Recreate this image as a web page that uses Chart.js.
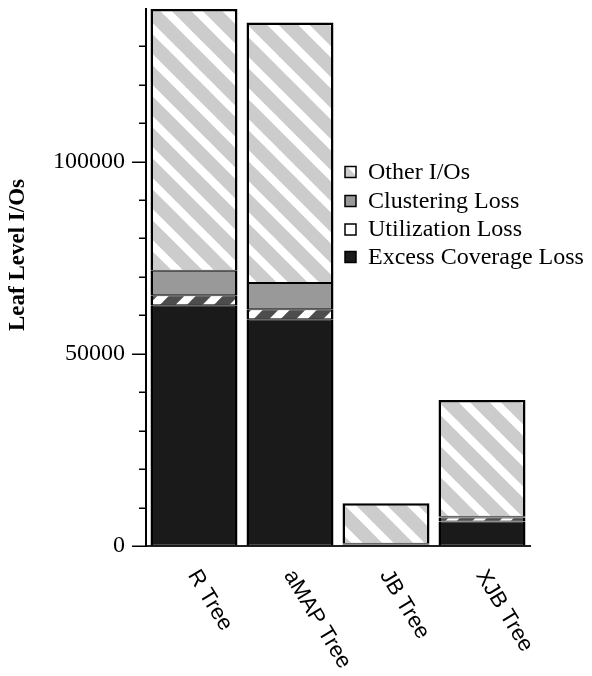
<!DOCTYPE html>
<html>
<head>
<meta charset="utf-8">
<script src="https://cdn.jsdelivr.net/npm/chart.js@4/dist/chart.umd.min.js"></script>
<style>
  html, body { margin: 0; padding: 0; background: #fff; }
  canvas { display: block; }
</style>
</head>
<body>
<canvas id="chart" width="592" height="676" style="width:592px;height:676px"></canvas>
<script>
// Leaf level I/O breakdown per index structure
const categories = ['R Tree', 'aMAP Tree', 'JB Tree', 'XJB Tree'];
const excessCoverageLoss = [62600, 59000, 400, 6400];
const utilizationLoss    = [2600, 2600, 100, 1000];
const clusteringLoss     = [6400, 6800, 100, 200];
const otherIOs           = [68100, 67800, 10500, 30400];
const yMax = 139700;
const yLabelTicks = [0, 50000, 100000];
const yMinorStep = 10000;
const legendLabels = ['Other I/Os', 'Clustering Loss', 'Utilization Loss', 'Excess Coverage Loss'];

// Diagonal stripe fills ("\" or "/")
function stripePattern(bg, fg, period, width, slash) {
  const c = document.createElement('canvas');
  c.width = period; c.height = period;
  const g = c.getContext('2d');
  g.fillStyle = bg;
  g.fillRect(0, 0, period, period);
  g.strokeStyle = fg;
  g.lineWidth = width;
  for (let k = -1; k <= 1; k++) {
    g.beginPath();
    if (slash) {
      g.moveTo(-period, 2 * period + k * period);
      g.lineTo(2 * period, -period + k * period);
    } else {
      g.moveTo(-period, -period + k * period);
      g.lineTo(2 * period, 2 * period + k * period);
    }
    g.stroke();
  }
  return g.createPattern(c, 'repeat');
}

const ctx = document.getElementById('chart').getContext('2d');
const otherFill = stripePattern('#cccccc', '#ffffff', 31, 8, false);
const utilFill = stripePattern('#4d4d4d', '#ffffff', 27, 8, true);
const clusterFill = '#999999';
const excessFill = '#1a1a1a';
const legendFills = [otherFill, clusterFill, '#ffffff', excessFill];

const serif = "'Liberation Serif', 'Times New Roman', serif";
const sans = "'Liberation Sans', Arial, sans-serif";

const innerBorder = { left: 2.5, right: 2.5, top: 1, bottom: 1 };
const topBorder = { left: 2.5, right: 2.5, top: 2.5, bottom: 1 };

const decorations = {
  id: 'decorations',
  afterDraw(chart) {
    const c = chart.ctx;
    const y = chart.scales.y;
    const x = chart.scales.x;
    const axisX = chart.chartArea.left;
    c.save();
    // y tick marks: long at labelled values, short in between
    c.strokeStyle = '#000';
    c.lineWidth = 1.5;
    for (let v = 0; v < yMax; v += yMinorStep) {
      const py = Math.round(y.getPixelForValue(v)) + 0.25;
      const len = yLabelTicks.includes(v) ? 14 : 7;
      c.beginPath();
      c.moveTo(axisX - len, py);
      c.lineTo(axisX, py);
      c.stroke();
    }
    // y axis title
    c.fillStyle = '#000';
    c.font = 'bold 23px ' + serif;
    c.textAlign = 'center';
    c.textBaseline = 'middle';
    c.translate(18, 255);
    c.rotate(-Math.PI / 2);
    c.fillText('Leaf Level I/Os', 0, 0);
    c.restore();

    // slanted category labels
    c.save();
    c.fillStyle = '#000';
    c.font = '22px ' + sans;
    c.textAlign = 'left';
    c.textBaseline = 'alphabetic';
    categories.forEach((label, i) => {
      const cx = x.getPixelForValue(i);
      c.save();
      c.translate(cx - 6.5, 575);
      c.rotate(59 * Math.PI / 180);
      c.fillText(label, 0, 0);
      c.restore();
    });
    c.restore();

    // legend
    c.save();
    c.font = '24px ' + serif;
    c.textBaseline = 'middle';
    c.textAlign = 'left';
    const rows = [171.5, 200.5, 229, 256.5];
    legendLabels.forEach((label, i) => {
      const cy = rows[i];
      c.fillStyle = legendFills[i];
      c.fillRect(345, cy - 5, 11, 11);
      c.strokeStyle = '#000';
      c.lineWidth = 1.5;
      c.strokeRect(345, cy - 5, 11, 11);
      c.fillStyle = '#000';
      c.fillText(label, 368, cy + 1);
    });
    c.restore();
  }
};

new Chart(ctx, {
  type: 'bar',
  data: {
    labels: categories,
    datasets: [
      { label: 'Excess Coverage Loss', data: excessCoverageLoss, backgroundColor: excessFill, borderWidth: innerBorder },
      { label: 'Utilization Loss', data: utilizationLoss, backgroundColor: utilFill, borderWidth: innerBorder },
      { label: 'Clustering Loss', data: clusteringLoss, backgroundColor: clusterFill, borderWidth: innerBorder },
      { label: 'Other I/Os', data: otherIOs, backgroundColor: otherFill, borderWidth: topBorder }
    ].map(d => Object.assign(d, {
      borderColor: '#000',
      borderSkipped: false,
      barPercentage: 0.906,
      categoryPercentage: 1.0
    }))
  },
  options: {
    responsive: false,
    devicePixelRatio: 1,
    animation: false,
    layout: { padding: { left: 0, right: 62, top: 9, bottom: 0 } },
    plugins: {
      legend: { display: false },
      tooltip: { enabled: false }
    },
    scales: {
      x: {
        stacked: true,
        grid: { display: false },
        ticks: { display: false },
        border: { display: true, color: '#222', width: 2 },
        afterFit(scale) { scale.height = 130; scale.paddingLeft = 0; scale.paddingRight = 0; }
      },
      y: {
        stacked: true,
        min: 0,
        max: yMax,
        afterBuildTicks(scale) { scale.ticks = yLabelTicks.map(v => ({ value: v })); },
        ticks: {
          color: '#000',
          padding: 7,
          font: { family: serif, size: 24 },
          callback: v => String(v)
        },
        grid: { drawOnChartArea: false, drawTicks: true, tickLength: 14, color: 'rgba(0,0,0,0)' },
        border: { display: true, color: '#000', width: 2 },
        afterFit(scale) { scale.width = 146; scale.paddingTop = 0; scale.paddingBottom = 0; }
      }
    }
  },
  plugins: [decorations]
});
</script>
</body>
</html>
